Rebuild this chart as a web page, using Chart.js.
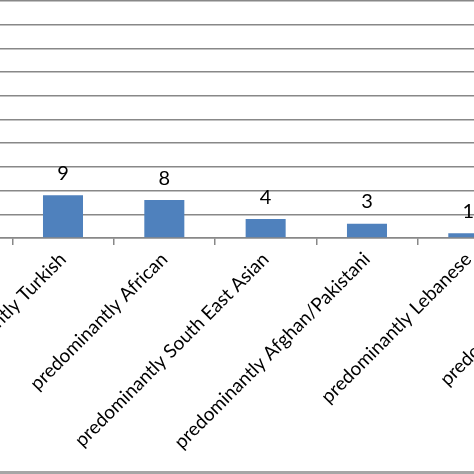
<!DOCTYPE html>
<html lang="en">
<head>
    <meta charset="UTF-8">
    <title>Predominant background</title>
    <script src="https://cdn.jsdelivr.net/npm/chart.js"></script>
    <style>
        body {
            margin: 0;
            width: 474px;
            height: 474px;
            overflow: hidden;
            position: relative;
            background: #fff;
            font-family: Lato, sans-serif;
        }
        #wrap {
            position: absolute;
            left: -89.3px;
            top: 0;
            width: 709.3px;
            height: 471px;
            border-bottom: 3px solid #a6a6a6;
        }
    </style>
</head>
<body>
    <div id="wrap">
        <canvas id="barChart"></canvas>
    </div>

    <script>
        // categories (the first and last ones sit outside the cropped frame)
        const categories = [
            '',
            'predominantly Turkish',
            'predominantly African',
            'predominantly South East Asian',
            'predominantly Afghan/Pakistani',
            'predominantly Lebanese',
            'predominantly Arabic'
        ];
        // values, null where the bar is not visible in the picture
        const counts = [null, 9, 8, 4, 3, 1, null];
        const yTicks = [0, 5, 10, 15, 20, 25, 30, 35, 40, 45, 50];

        const gridGrey = '#888888';

        // draw the number above every bar
        const valueLabels = {
            id: 'valueLabels',
            afterDatasetsDraw(chart) {
                const ctx = chart.ctx;
                const meta = chart.getDatasetMeta(0);
                ctx.save();
                ctx.font = '20px Lato, sans-serif';
                ctx.fillStyle = '#000';
                ctx.textAlign = 'center';
                ctx.textBaseline = 'alphabetic';
                meta.data.forEach((bar, i) => {
                    const v = counts[i];
                    if (v === null) return;
                    ctx.fillText(String(v), bar.x, bar.y - 15.5);
                });
                ctx.restore();
            }
        };

        const ctx = document.getElementById('barChart').getContext('2d');

        new Chart(ctx, {
            type: 'bar',
            data: {
                labels: categories,
                datasets: [{
                    data: counts,
                    backgroundColor: '#4f81bd',
                    borderWidth: 0,
                    categoryPercentage: 1,
                    barPercentage: 0.395
                }]
            },
            options: {
                responsive: true,
                maintainAspectRatio: false,
                animation: false,
                layout: { padding: { top: 1, left: 0, right: 0, bottom: 0 } },
                plugins: {
                    legend: { display: false },
                    tooltip: { enabled: false }
                },
                scales: {
                    x: {
                        grid: {
                            drawOnChartArea: false,
                            drawTicks: true,
                            tickLength: 7,
                            color: gridGrey,
                            lineWidth: 1.5
                        },
                        border: { color: gridGrey, width: 1.5 },
                        ticks: {
                            color: '#000',
                            font: { family: 'Lato, sans-serif', size: 19 },
                            minRotation: 45,
                            maxRotation: 45,
                            autoSkip: false,
                            padding: 3
                        },
                        afterFit(scale) { scale.height = 471 - 238; }
                    },
                    y: {
                        min: 0,
                        max: 50,
                        afterBuildTicks(scale) {
                            scale.ticks = yTicks.map(v => ({ value: v }));
                        },
                        grid: {
                            color: gridGrey,
                            lineWidth: 1.5,
                            drawTicks: false
                        },
                        border: { display: false },
                        ticks: { display: false },
                        afterFit(scale) { scale.width = 0; }
                    }
                }
            },
            plugins: [valueLabels]
        });
    </script>
</body>
</html>
